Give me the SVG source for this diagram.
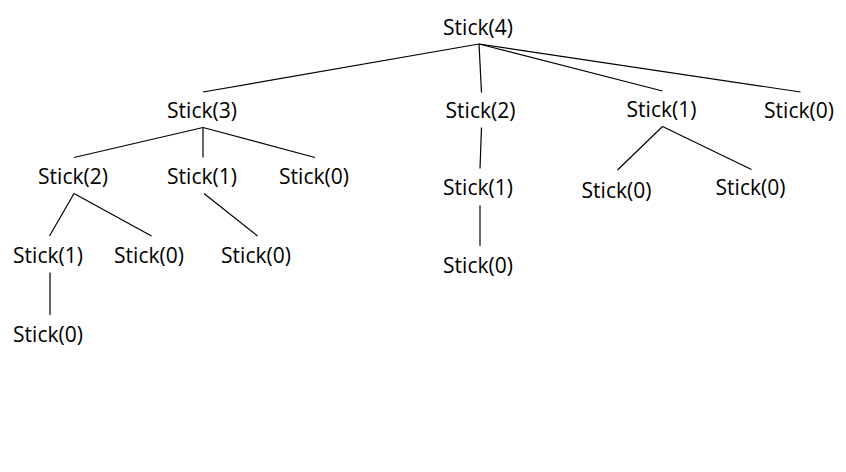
<svg xmlns="http://www.w3.org/2000/svg" width="846" height="472" viewBox="0 0 846 472">
<style>
.n text{font-family:"Open Sans","Noto Sans","DejaVu Sans",sans-serif;font-size:21px;fill:#000;text-anchor:middle}
.e line{stroke:#000;stroke-width:1.2}
</style>
<rect width="846" height="472" fill="#fff"/>
<g class="e" id="connectors">
<line x1="479" y1="44" x2="203" y2="92"/>
<line x1="479" y1="44" x2="481.5" y2="92.5"/>
<line x1="479" y1="44" x2="662.5" y2="91"/>
<line x1="479" y1="44" x2="800.5" y2="92"/>
<line x1="203" y1="127.5" x2="74" y2="157.5"/>
<line x1="203" y1="127.5" x2="203" y2="157.5"/>
<line x1="203" y1="127.5" x2="315" y2="157.5"/>
<line x1="481.5" y1="127.5" x2="480" y2="168.5"/>
<line x1="662.5" y1="126.5" x2="617.5" y2="170"/>
<line x1="662.5" y1="126.5" x2="751.5" y2="169.5"/>
<line x1="74" y1="193.5" x2="49.5" y2="236"/>
<line x1="74" y1="193.5" x2="151.5" y2="236"/>
<line x1="204" y1="193.5" x2="257.5" y2="236"/>
<line x1="480" y1="205.5" x2="480" y2="246"/>
<line x1="50" y1="272.5" x2="50" y2="315"/>
</g>
<g class="n" id="n_s4"><text x="478" y="35">Stick(4)</text></g>
<g class="n" id="n_s3"><text x="202" y="118">Stick(3)</text></g>
<g class="n" id="n_s2b"><text x="480.5" y="117.5">Stick(2)</text></g>
<g class="n" id="n_s1c"><text x="661.5" y="117">Stick(1)</text></g>
<g class="n" id="n_s0d"><text x="799" y="118">Stick(0)</text></g>
<g class="n" id="n_s2a"><text x="73" y="184">Stick(2)</text></g>
<g class="n" id="n_s1a"><text x="202" y="184">Stick(1)</text></g>
<g class="n" id="n_s0a"><text x="314" y="184">Stick(0)</text></g>
<g class="n" id="n_s1b"><text x="478" y="194.5">Stick(1)</text></g>
<g class="n" id="n_s0e"><text x="616.5" y="197.5">Stick(0)</text></g>
<g class="n" id="n_s0f"><text x="750.5" y="194.5">Stick(0)</text></g>
<g class="n" id="n_s1d"><text x="48" y="263">Stick(1)</text></g>
<g class="n" id="n_s0b"><text x="149" y="263">Stick(0)</text></g>
<g class="n" id="n_s0c"><text x="256" y="263">Stick(0)</text></g>
<g class="n" id="n_s0g"><text x="478" y="272.5">Stick(0)</text></g>
<g class="n" id="n_s0h"><text x="48" y="341.5">Stick(0)</text></g>
</svg>
